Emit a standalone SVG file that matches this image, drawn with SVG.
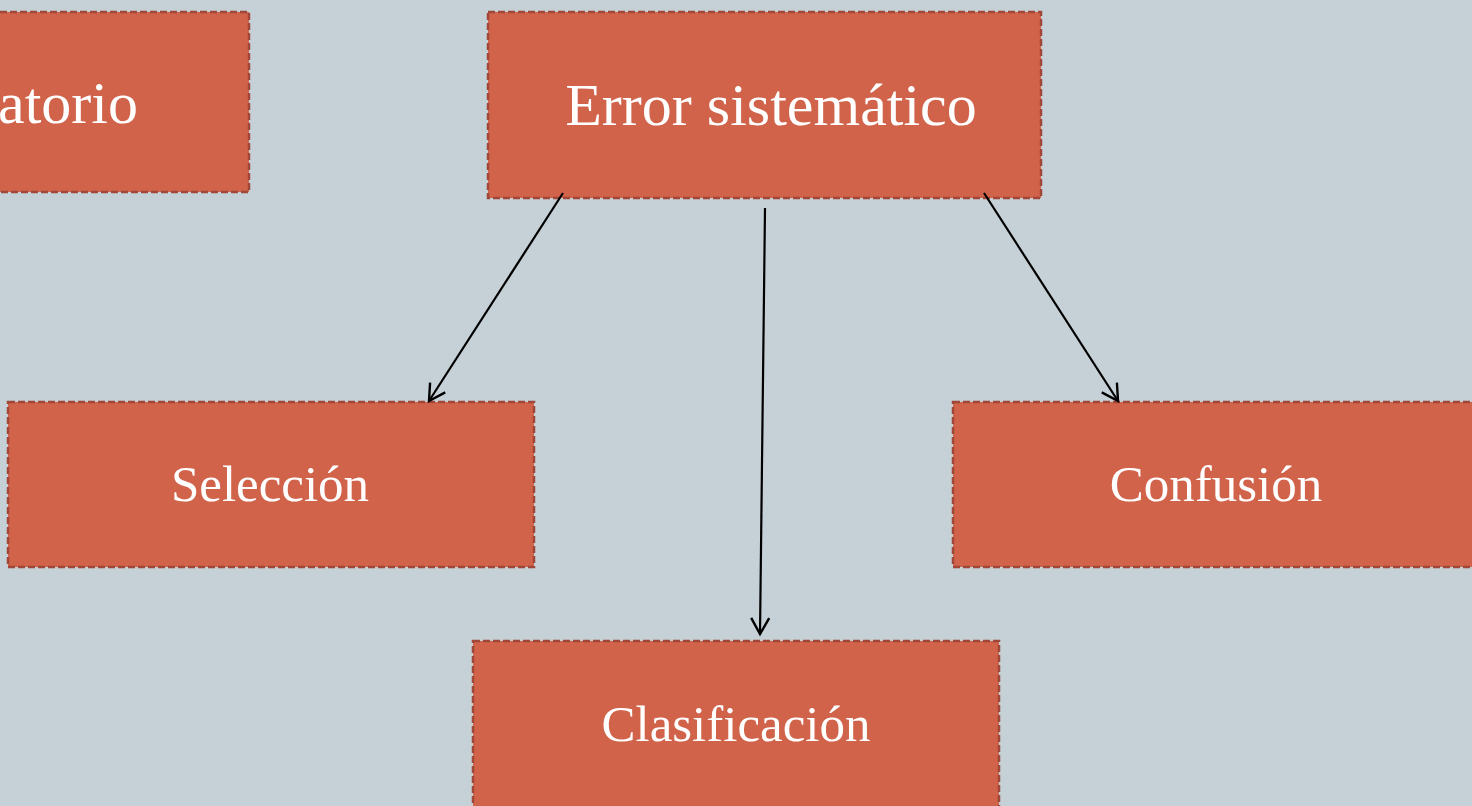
<svg xmlns="http://www.w3.org/2000/svg" width="1472" height="806" viewBox="0 0 1472 806">
<style>
.box{fill:#D0634A;stroke:#A0473A;stroke-width:2.5;stroke-dasharray:7 3}
.lbl{font-family:"Liberation Serif","Times New Roman",serif;fill:#FFFFFF;text-anchor:middle}
.big{font-size:60px}
.sm{font-size:51px}
.conn{stroke:#000;stroke-width:2.2;fill:none;marker-end:url(#arr)}
</style>
<defs>
<marker id="arr" viewBox="0 0 24 24" refX="21" refY="12" markerWidth="24" markerHeight="24" markerUnits="userSpaceOnUse" orient="auto">
<path d="M5,3 L21,12 L5,21" fill="none" stroke="#000" stroke-width="2.4"/>
</marker>
</defs>
<rect width="1472" height="806" fill="#C5D1D7"/>
<g id="node-aleatorio">
<rect class="box" x="-310" y="12" width="559" height="180"/>
<text class="lbl big" x="138" y="123" style="text-anchor:end">Error aleatorio</text>
</g>
<g id="node-sistematico">
<rect class="box" x="488" y="12" width="553" height="186"/>
<text class="lbl big" x="771" y="125">Error sistemático</text>
</g>
<g id="node-seleccion">
<rect class="box" x="8" y="402" width="526" height="165"/>
<text class="lbl sm" x="270" y="501">Selección</text>
</g>
<g id="node-confusion">
<rect class="box" x="953" y="402" width="526" height="165"/>
<text class="lbl sm" x="1216" y="501">Confusión</text>
</g>
<g id="node-clasificacion">
<rect class="box" x="473" y="641" width="526" height="175"/>
<text class="lbl sm" x="736" y="741">Clasificación</text>
</g>
<g id="connectors">
<line class="conn" x1="563" y1="193" x2="429" y2="401"/>
<line class="conn" x1="765" y1="208" x2="760" y2="634"/>
<line class="conn" x1="984" y1="193" x2="1118" y2="401"/>
</g>
</svg>
